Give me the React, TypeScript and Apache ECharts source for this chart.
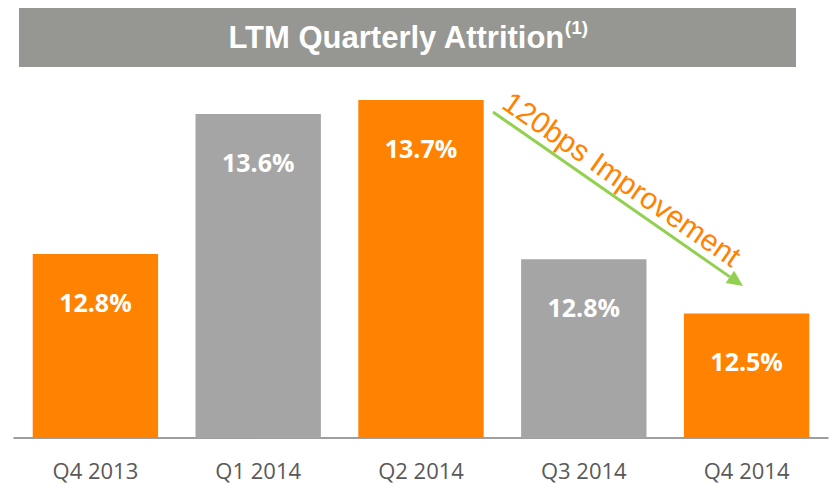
import React, { useEffect, useRef } from "react";
import * as echarts from "echarts";

const categories = ["Q4 2013", "Q1 2014", "Q2 2014", "Q3 2014", "Q4 2014"];
const attrition = [12.8, 13.6, 13.68, 12.77, 12.46];
const barColors = ["#FF8200", "#A5A5A5", "#FF8200", "#A5A5A5", "#FF8200"];
const titleText = "LTM Quarterly Attrition";
const titleNote = "(1)";
const arrowText = "120bps Improvement";

export default function App() {
  const ref = useRef<HTMLDivElement>(null);
  useEffect(() => {
    if (!ref.current) return;
    const chart = echarts.init(ref.current, null, { renderer: "svg" });
    const x0 = 493, y0 = 112, tx = 743, ty = 286;
    const dx = tx - x0, dy = ty - y0;
    const len = Math.sqrt(dx * dx + dy * dy);
    const ux = dx / len, uy = dy / len;
    const headLen = 16, headHalf = 7.5;
    const bx = tx - ux * headLen, by = ty - uy * headLen;
    const nx = -uy, ny = ux;
    const angle = Math.atan2(dy, dx);
    chart.setOption({
      animation: false,
      grid: { left: 14, right: 3, top: 80, bottom: 46, containLabel: false },
      xAxis: {
        type: "category",
        data: categories,
        axisLine: { lineStyle: { color: "#7F7F7F", width: 1.5 } },
        axisTick: { show: false },
        axisLabel: {
          color: "#595959",
          fontFamily: "Open Sans",
          fontSize: 22,
          margin: 21,
        },
      },
      yAxis: {
        type: "value",
        min: 11.749,
        max: 13.795,
        show: false,
        splitLine: { show: false },
      },
      series: [
        {
          type: "bar",
          barCategoryGap: "23%",
          data: attrition.map((v, i) => ({ value: v, itemStyle: { color: barColors[i] } })),
          label: {
            show: true,
            position: "insideTop",
            distance: 35,
            color: "#FFFFFF",
            fontFamily: "Open Sans",
            fontWeight: "bold",
            fontSize: 25,
            formatter: (p: any) => p.value.toFixed(1) + "%",
          },
        },
      ],
      graphic: [
        {
          type: "rect",
          shape: { x: 19, y: 8, width: 777, height: 59 },
          style: { fill: "#969692" },
          silent: true,
        },
        {
          type: "text",
          x: 408,
          y: 37,
          style: {
            text: "{m|" + titleText + "}{s|" + titleNote + "}",
            align: "center",
            verticalAlign: "middle",
            rich: {
              m: {
                fontFamily: "Liberation Sans",
                fontWeight: "bold",
                fontSize: 31,
                lineHeight: 38,
                fill: "#FFFFFF",
                color: "#FFFFFF",
              },
              s: {
                fontFamily: "Liberation Sans",
                fontWeight: "bold",
                fontSize: 19,
                verticalAlign: "top",
                fill: "#FFFFFF",
                color: "#FFFFFF",
              },
            },
          },
        },
        {
          type: "line",
          shape: { x1: x0, y1: y0, x2: bx, y2: by },
          style: { stroke: "#92D050", lineWidth: 3 },
        },
        {
          type: "polygon",
          shape: {
            points: [
              [tx, ty],
              [bx + nx * headHalf, by + ny * headHalf],
              [bx - nx * headHalf, by - ny * headHalf],
            ],
          },
          style: { fill: "#92D050" },
        },
        {
          type: "text",
          x: 622,
          y: 179,
          rotation: -angle,
          style: {
            text: arrowText,
            fontFamily: "Liberation Sans",
            fontSize: 30,
            fill: "#FF8200",
            align: "center",
            verticalAlign: "middle",
          },
        },
      ],
    });
    return () => chart.dispose();
  }, []);
  return <div ref={ref} style={{ width: 831, height: 484, position: "absolute", left: 0, top: 0 }} />;
}
